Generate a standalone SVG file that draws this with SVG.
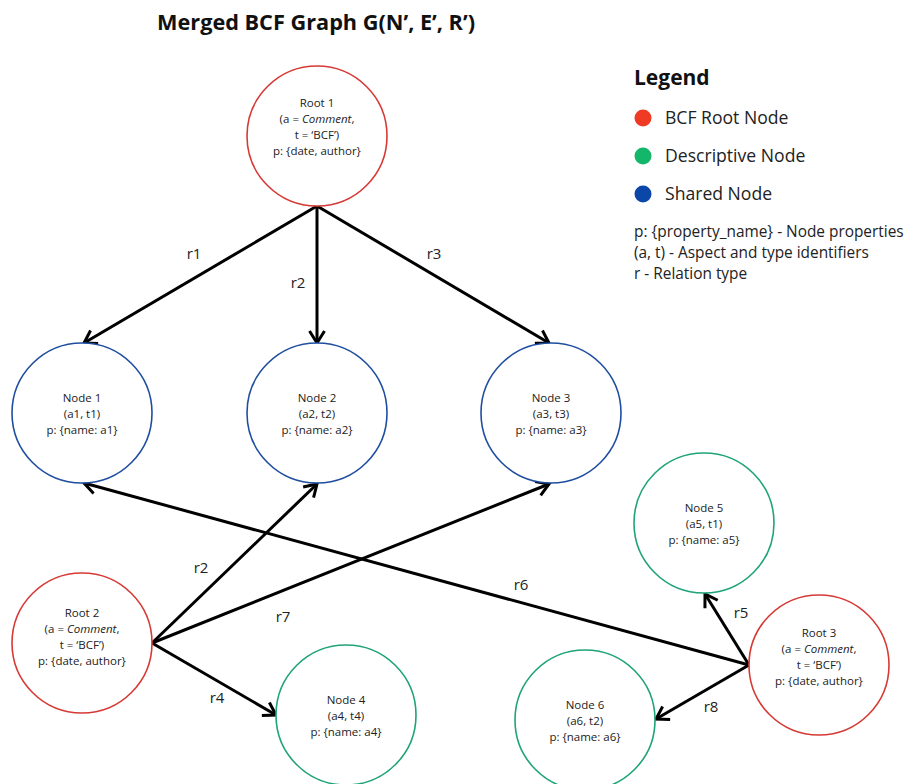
<svg xmlns="http://www.w3.org/2000/svg" width="920" height="784" viewBox="0 0 920 784">
<style>
  text { font-family: "Open Sans", "Noto Sans", "Liberation Sans", sans-serif; fill: #222; }
  .title { font-size: 21.7px; font-weight: bold; fill: #111; }
  .lg { font-size: 21px; font-weight: bold; fill: #111; }
  .li { font-size: 17.6px; }
  .lt { font-size: 15.4px; }
  .nt { font-size: 11.5px; text-anchor: middle; }
  .el { font-size: 15px; text-anchor: middle; }
  .root { fill: #fff; stroke: #d63a35; stroke-width: 1.6; }
  .shared { fill: #fff; stroke: #1f4ea0; stroke-width: 1.6; }
  .desc { fill: #fff; stroke: #1fa37a; stroke-width: 1.6; }
  .edge { stroke: #000; stroke-width: 3; fill: none; marker-end: url(#arr); }
</style>
<defs>
  <marker id="arr" markerUnits="userSpaceOnUse" markerWidth="18" markerHeight="18" viewBox="0 0 18 18" refX="15" refY="9" orient="auto">
    <path d="M3,1.5 L15,9 L3,16.5" fill="none" stroke="#000" stroke-width="3" stroke-linejoin="miter"/>
  </marker>
</defs>
<rect width="920" height="784" fill="#fff"/>
<text class="title" x="316" y="30" text-anchor="middle">Merged BCF Graph G(N’, E’, R’)</text>

<g id="legend">
  <text class="lg" x="634" y="85">Legend</text>
  <circle cx="643" cy="118" r="8.5" fill="#ef3b24"/>
  <text class="li" x="665" y="124">BCF Root Node</text>
  <circle cx="643" cy="156" r="8.5" fill="#14b76a"/>
  <text class="li" x="665" y="162">Descriptive Node</text>
  <circle cx="643" cy="194" r="8.5" fill="#0b47a8"/>
  <text class="li" x="665" y="200">Shared Node</text>
  <text class="lt" x="634" y="237">p: {property_name} - Node properties</text>
  <text class="lt" x="634" y="258">(a, t) - Aspect and type identifiers</text>
  <text class="lt" x="634" y="279">r - Relation type</text>
</g>

<g id="connectors">
  <line class="edge" x1="317" y1="206" x2="84" y2="343"/>
  <line class="edge" x1="317" y1="206" x2="317" y2="343"/>
  <line class="edge" x1="317" y1="206" x2="549" y2="343"/>
  <line class="edge" x1="152" y1="643" x2="317" y2="484"/>
  <line class="edge" x1="152" y1="643" x2="549" y2="484"/>
  <line class="edge" x1="152" y1="643" x2="276" y2="715"/>
  <line class="edge" x1="749" y1="665" x2="84" y2="483"/>
  <line class="edge" x1="749" y1="665" x2="705" y2="594"/>
  <line class="edge" x1="749" y1="665" x2="656" y2="719"/>
  <text class="el" x="194" y="259">r1</text>
  <text class="el" x="298" y="288">r2</text>
  <text class="el" x="434" y="259">r3</text>
  <text class="el" x="201" y="573">r2</text>
  <text class="el" x="283" y="622">r7</text>
  <text class="el" x="217" y="703">r4</text>
  <text class="el" x="521" y="590">r6</text>
  <text class="el" x="741" y="618">r5</text>
  <text class="el" x="711" y="712">r8</text>
</g>

<g id="root1">
  <circle class="root" cx="317" cy="136" r="70"/>
  <text class="nt" x="317" y="107">Root 1</text>
  <text class="nt" x="317" y="123">(a = <tspan font-style="italic">Comment</tspan>,</text>
  <text class="nt" x="317" y="139">t = ‘BCF’)</text>
  <text class="nt" x="317" y="155">p: {date, author}</text>
</g>
<g id="node1">
  <circle class="shared" cx="82" cy="413" r="70"/>
  <text class="nt" x="82" y="402">Node 1</text>
  <text class="nt" x="82" y="418">(a1, t1)</text>
  <text class="nt" x="82" y="434">p: {name: a1}</text>
</g>
<g id="node2">
  <circle class="shared" cx="317" cy="413" r="70"/>
  <text class="nt" x="317" y="402">Node 2</text>
  <text class="nt" x="317" y="418">(a2, t2)</text>
  <text class="nt" x="317" y="434">p: {name: a2}</text>
</g>
<g id="node3">
  <circle class="shared" cx="551" cy="413" r="70"/>
  <text class="nt" x="551" y="402">Node 3</text>
  <text class="nt" x="551" y="418">(a3, t3)</text>
  <text class="nt" x="551" y="434">p: {name: a3}</text>
</g>
<g id="node5">
  <circle class="desc" cx="704" cy="523" r="70"/>
  <text class="nt" x="704" y="512">Node 5</text>
  <text class="nt" x="704" y="528">(a5, t1)</text>
  <text class="nt" x="704" y="544">p: {name: a5}</text>
</g>
<g id="root2">
  <circle class="root" cx="82" cy="643" r="70"/>
  <text class="nt" x="82" y="617">Root 2</text>
  <text class="nt" x="82" y="633">(a = <tspan font-style="italic">Comment</tspan>,</text>
  <text class="nt" x="82" y="649">t = ‘BCF’)</text>
  <text class="nt" x="82" y="665">p: {date, author}</text>
</g>
<g id="node4">
  <circle class="desc" cx="346" cy="715" r="70"/>
  <text class="nt" x="346" y="704">Node 4</text>
  <text class="nt" x="346" y="720">(a4, t4)</text>
  <text class="nt" x="346" y="736">p: {name: a4}</text>
</g>
<g id="node6">
  <circle class="desc" cx="585" cy="720" r="70"/>
  <text class="nt" x="585" y="709">Node 6</text>
  <text class="nt" x="585" y="725">(a6, t2)</text>
  <text class="nt" x="585" y="741">p: {name: a6}</text>
</g>
<g id="root3">
  <circle class="root" cx="819" cy="665" r="70"/>
  <text class="nt" x="819" y="637">Root 3</text>
  <text class="nt" x="819" y="653">(a = <tspan font-style="italic">Comment</tspan>,</text>
  <text class="nt" x="819" y="669">t = ‘BCF’)</text>
  <text class="nt" x="819" y="685">p: {date, author}</text>
</g>
</svg>
